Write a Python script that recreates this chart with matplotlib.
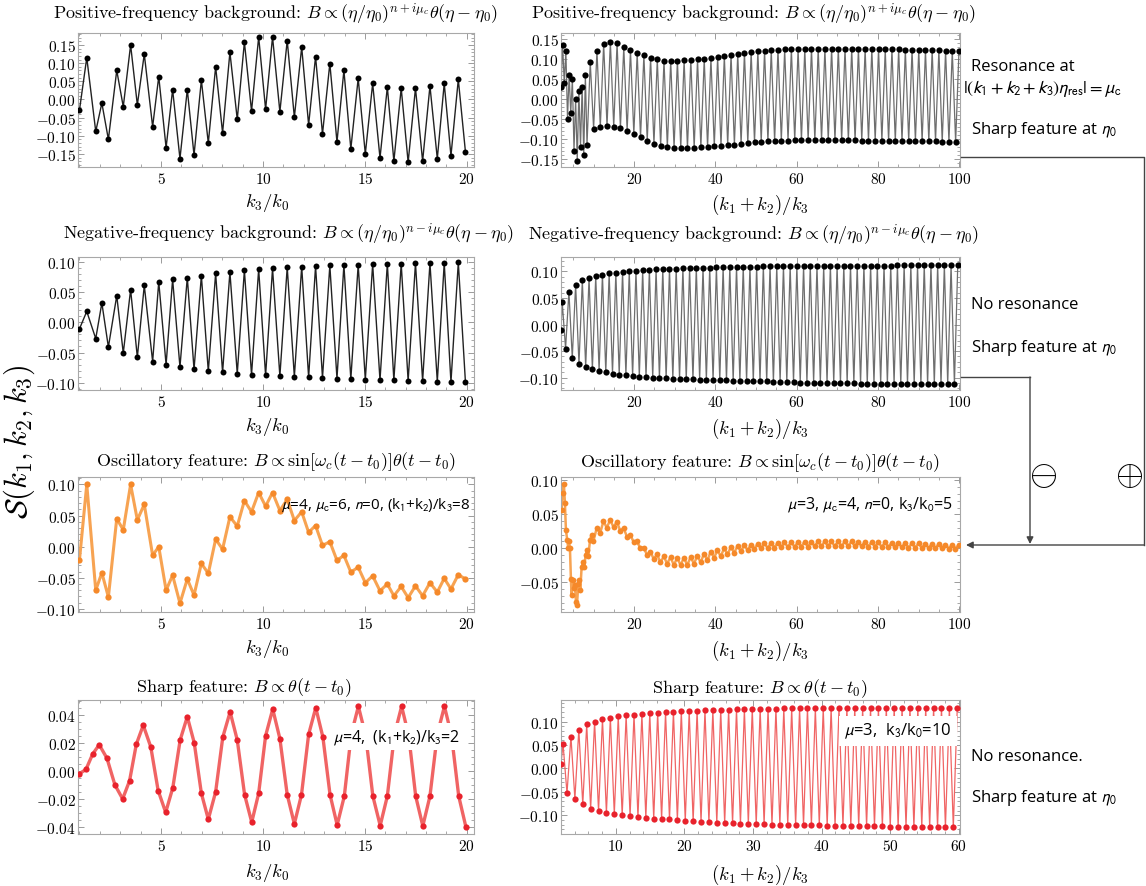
import numpy as np
import matplotlib.pyplot as plt
from matplotlib.lines import Line2D
from matplotlib.patches import FancyArrowPatch
from matplotlib.ticker import MultipleLocator, FuncFormatter

plt.rcParams['font.family'] = 'serif'
plt.rcParams['font.serif'] = ['cmr10']
plt.rcParams['mathtext.fontset'] = 'cm'
plt.rcParams['axes.unicode_minus'] = False

W, H = 1146, 887

# ---------------- data ----------------
# left column: extrema positions in k3/k0 (shared by the three upper left panels)
k3_ext = [1.0, 1.36, 1.8, 2.1, 2.42, 2.83, 3.15, 3.51, 3.84, 4.18, 4.59, 4.89, 5.25, 5.57,
          5.93, 6.29, 6.62, 6.98, 7.32, 7.68, 8.02, 8.38, 8.74, 9.09, 9.44, 9.79, 10.13,
          10.47, 10.83, 11.19, 11.54, 11.9, 12.24, 12.58, 12.92, 13.28, 13.63, 13.97, 14.31,
          14.67, 15.02, 15.38, 15.74, 16.1, 16.42, 16.78, 17.12, 17.48, 17.83, 18.19, 18.55,
          18.89, 19.22, 19.58, 19.93]
pos_k3 = [-0.03, 0.115, -0.088, -0.01, -0.11, 0.08, -0.02, 0.15, -0.015, 0.125, -0.075, 0.063,
          -0.133, 0.027, -0.163, 0.027, -0.153, 0.053, -0.12, 0.09, -0.092, 0.13, -0.055, 0.158,
          -0.032, 0.172, -0.027, 0.172, -0.034, 0.162, -0.049, 0.144, -0.07, 0.118, -0.095, 0.099,
          -0.117, 0.08, -0.136, 0.058, -0.15, 0.044, -0.161, 0.034, -0.17, 0.031, -0.173, 0.031,
          -0.17, 0.037, -0.163, 0.044, -0.155, 0.055, -0.144]
neg_k3 = [-0.011, 0.018, -0.027, 0.032, -0.041, 0.044, -0.051, 0.054, -0.058, 0.061, -0.065, 0.067,
          -0.070, 0.071, -0.074, 0.074, -0.078, 0.077, -0.081, 0.081, -0.083, 0.083, -0.085, 0.086,
          -0.087, 0.088, -0.088, 0.089, -0.089, 0.091, -0.090, 0.092, -0.091, 0.093, -0.092, 0.094,
          -0.093, 0.095, -0.094, 0.095, -0.095, 0.096, -0.096, 0.097, -0.096, 0.097, -0.097, 0.098,
          -0.097, 0.098, -0.098, 0.098, -0.099, 0.099, -0.099]
osc_k3 = [-0.022, 0.10, -0.07, -0.042, -0.081, 0.045, 0.027, 0.10, 0.043, 0.068, -0.014, 0.0,
          -0.07, -0.046, -0.091, -0.052, -0.078, -0.027, -0.043, 0.012, -0.004, 0.048, 0.033, 0.074,
          0.056, 0.087, 0.065, 0.087, 0.058, 0.076, 0.042, 0.056, 0.023, 0.034, 0.002, 0.008,
          -0.022, -0.014, -0.041, -0.033, -0.058, -0.047, -0.071, -0.06, -0.079, -0.064, -0.082,
          -0.063, -0.079, -0.058, -0.073, -0.051, -0.068, -0.045, -0.052]
sharp_k3_x = [1.0, 1.32, 1.65, 1.97, 2.35, 2.74, 3.12, 3.46, 3.79, 4.13, 4.5, 4.86, 5.23, 5.58,
              5.94, 6.29, 6.63, 6.98, 7.32, 7.68, 8.03, 8.39, 8.74, 9.1, 9.45, 9.79, 10.13, 10.48,
              10.83, 11.19, 11.54, 11.89, 12.24, 12.59, 12.94, 13.29, 13.64, 13.99, 14.33, 14.68,
              15.04, 15.39, 15.75, 16.1, 16.45, 16.8, 17.15, 17.49, 17.84, 18.19, 18.55, 18.9,
              19.25, 19.6, 19.95]
sharp_k3_y = [-0.002, 0.001, 0.012, 0.0186, 0.009, -0.010, -0.020, -0.007, 0.019, 0.0325, 0.017,
              -0.014, -0.0296, -0.012, 0.022, 0.0386, 0.020, -0.016, -0.0345, -0.015, 0.024, 0.042,
              0.022, -0.017, -0.0366, -0.016, 0.025, 0.044, 0.023, -0.017, -0.0378, -0.017, 0.026,
              0.045, 0.024, -0.017, -0.0386, -0.018, 0.026, 0.046, 0.025, -0.018, -0.039, -0.018,
              0.026, 0.046, 0.025, -0.018, -0.0393, -0.018, 0.026, 0.046, 0.025, -0.018, -0.0398]

# right column: early points, then tops / bottoms of the fast oscillation
pos_sum_head_x = [2.0, 2.4, 2.8, 3.2, 3.6, 4.0, 4.4, 4.8, 5.2, 5.6, 6.0, 6.4, 6.8, 7.2, 7.6, 8.0, 8.4]
pos_sum_head_y = [0.03, 0.135, 0.04, 0.12, -0.05, 0.06, -0.035, 0.05, -0.13, 0.0, -0.155, 0.02,
                  -0.12, 0.03, -0.14, 0.06, -0.115]
pos_sum_tops = [0.092, 0.12, 0.138, 0.143, 0.14, 0.13, 0.122, 0.115, 0.11, 0.103,
                0.099, 0.096, 0.096, 0.096, 0.097, 0.098, 0.099, 0.1, 0.102, 0.105,
                0.108, 0.111, 0.113, 0.116, 0.118, 0.119, 0.121, 0.122, 0.123, 0.124,
                0.125, 0.125, 0.125, 0.126, 0.126, 0.126, 0.126, 0.126, 0.126, 0.125,
                0.125, 0.125, 0.125, 0.125, 0.124, 0.124, 0.124, 0.123, 0.123, 0.123,
                0.122, 0.122, 0.122, 0.121, 0.121, 0.121]
pos_sum_bots = [-0.075, -0.071, -0.069, -0.07, -0.073, -0.08, -0.088, -0.097, -0.106, -0.113,
                -0.118, -0.121, -0.123, -0.123, -0.123, -0.123, -0.122, -0.121, -0.119, -0.118,
                -0.116, -0.115, -0.113, -0.111, -0.109, -0.108, -0.107, -0.106, -0.105, -0.105,
                -0.104, -0.104, -0.104, -0.104, -0.104, -0.104, -0.104, -0.104, -0.104, -0.104,
                -0.105, -0.105, -0.105, -0.105, -0.106, -0.106, -0.106, -0.106, -0.106, -0.107,
                -0.107, -0.107, -0.108, -0.108, -0.109]

neg_sum_head_x = [2.0]
neg_sum_head_y = [-0.01]
neg_sum_tops = [0.042, 0.062, 0.075, 0.083, 0.088, 0.091, 0.094, 0.096, 0.097, 0.099,
                0.1, 0.101, 0.102, 0.103, 0.104, 0.104, 0.105, 0.105, 0.106, 0.106,
                0.107, 0.107, 0.107, 0.108, 0.108, 0.108, 0.109, 0.109, 0.109, 0.109,
                0.11, 0.11, 0.11, 0.11, 0.11, 0.11, 0.11, 0.11, 0.11, 0.11,
                0.111, 0.111, 0.111, 0.111, 0.111, 0.111, 0.111, 0.111, 0.111, 0.111,
                0.112, 0.112, 0.112, 0.112, 0.112, 0.112, 0.112, 0.112, 0.112, 0.112]
neg_sum_bots = [-0.045, -0.063, -0.074, -0.08, -0.084, -0.087, -0.09, -0.092, -0.094, -0.095,
                -0.097, -0.098, -0.099, -0.1, -0.101, -0.101, -0.102, -0.102, -0.103, -0.103,
                -0.104, -0.104, -0.105, -0.105, -0.105, -0.106, -0.106, -0.106, -0.107, -0.107,
                -0.107, -0.108, -0.108, -0.108, -0.108, -0.109, -0.109, -0.109, -0.109, -0.11,
                -0.11, -0.11, -0.11, -0.11, -0.111, -0.111, -0.111, -0.111, -0.111, -0.111,
                -0.112, -0.112, -0.112, -0.112, -0.112, -0.112, -0.112, -0.112, -0.112]

osc_sum_head_x = [2.14, 2.39, 2.72, 2.96, 3.21, 3.54, 3.79, 3.95, 4.2, 4.44, 4.6, 5.0, 5.27, 5.43,
                  5.68, 5.93, 6.26, 6.5, 6.75, 7.08, 7.49, 7.74, 8.07, 8.4, 8.72, 9.14, 9.55, 9.96]
osc_sum_head_y = [0.057, 0.082, 0.094, 0.067, 0.027, 0.012, 0.0, 0.01, 0.0, -0.045, -0.069, -0.047,
                  -0.059, -0.054, -0.079, -0.084, -0.052, -0.047, -0.062, -0.027, -0.02, -0.027,
                  -0.01, -0.002, -0.012, 0.012, 0.02, 0.01]
osc_sum_tops = [0.030, 0.040, 0.042, 0.039, 0.030, 0.020, 0.010, 0.001, -0.005, -0.009,
                -0.012, -0.013, -0.014, -0.014, -0.013, -0.011, -0.008, -0.005, -0.003, 0.0,
                0.0015, 0.003, 0.0045, 0.0055, 0.0065, 0.007, 0.0075, 0.008, 0.0085, 0.009,
                0.009, 0.0095, 0.0095, 0.01, 0.01, 0.01, 0.01, 0.01, 0.01, 0.0095,
                0.0095, 0.009, 0.009, 0.0085, 0.008, 0.008, 0.0075, 0.007, 0.007, 0.0065,
                0.006, 0.006, 0.0055, 0.005, 0.005]
osc_sum_bots = [0.022, 0.030, 0.031, 0.026, 0.017, 0.009, 0.0, -0.01, -0.016, -0.021,
                -0.023, -0.025, -0.025, -0.025, -0.023, -0.021, -0.018, -0.014, -0.012, -0.009,
                -0.0065, -0.0045, -0.003, -0.0015, 0.0, 0.0005, 0.001, 0.0015, 0.002, 0.002,
                0.0025, 0.0025, 0.003, 0.003, 0.003, 0.003, 0.003, 0.003, 0.003, 0.003,
                0.0025, 0.0025, 0.002, 0.002, 0.0015, 0.0015, 0.001, 0.001, 0.0005, 0.0005,
                0.0, 0.0, -0.0005, -0.0005]

sharp_sum_head_x = [2.0]
sharp_sum_head_y = [0.01]
sharp_sum_tops = [0.052, 0.068, 0.083, 0.094, 0.1, 0.105, 0.108, 0.111, 0.113, 0.115,
                  0.116, 0.118, 0.119, 0.12, 0.121, 0.122, 0.122, 0.123, 0.124, 0.124,
                  0.125, 0.125, 0.126, 0.126, 0.127, 0.127, 0.127, 0.127,
                  0.128, 0.128, 0.128, 0.128, 0.128, 0.128, 0.128, 0.128, 0.128, 0.128, 0.128,
                  0.128, 0.128,
                  0.129, 0.129, 0.129, 0.129, 0.129, 0.129, 0.129, 0.129, 0.129, 0.129]
sharp_sum_bots = [-0.053, -0.065, -0.077, -0.086, -0.091, -0.095, -0.098, -0.1, -0.102, -0.104,
                  -0.105, -0.107, -0.108, -0.109, -0.11, -0.112, -0.113, -0.114, -0.115, -0.116,
                  -0.117, -0.117, -0.118, -0.118, -0.119, -0.119, -0.12, -0.12, -0.12, -0.121,
                  -0.121, -0.121, -0.121, -0.122, -0.122, -0.122, -0.122, -0.123, -0.123, -0.123,
                  -0.123, -0.124, -0.124, -0.124, -0.125, -0.125, -0.125, -0.126, -0.126, -0.126]

titles = [r'Positive-frequency background: $B \propto (\eta/\eta_0)^{n+i\mu_c}\theta(\eta-\eta_0)$',
          r'Negative-frequency background: $B \propto (\eta/\eta_0)^{n-i\mu_c}\theta(\eta-\eta_0)$',
          r'Oscillatory feature: $B \propto \sin[\omega_c(t-t_0)]\theta(t-t_0)$',
          r'Sharp feature: $B \propto \theta(t-t_0)$']

BLACK, GREY = 'black', '#6e6e6e'
ORANGE, ORANGE_L = '#F5892A', '#F7A352'
RED, RED_L = '#E8222C', '#F06464'
SANS = 'Open Sans'


def zigzag(head_x, head_y, x0, step, tops, bots):
    # tops sit every `step`, bottoms half a step later
    xt = x0 + step * np.arange(len(tops))
    xb = x0 + step / 2 + step * np.arange(len(bots))
    x = np.concatenate([xt, xb])
    y = np.concatenate([tops, bots])
    o = np.argsort(x)
    return np.concatenate([head_x, x[o]]), np.concatenate([head_y, y[o]])


fig = plt.figure(figsize=(W / 100, H / 100), dpi=100)


def add_ax(x0, x1, y0, y1):
    return fig.add_axes([x0 / W, 1 - y1 / H, (x1 - x0) / W, (y1 - y0) / H])


def style(ax, xlim, ylim, xmaj, xmin, ymaj, ymin):
    ax.set_xlim(xlim)
    ax.set_ylim(ylim)
    ax.xaxis.set_major_locator(MultipleLocator(xmaj))
    ax.xaxis.set_minor_locator(MultipleLocator(xmin))
    ax.yaxis.set_major_locator(MultipleLocator(ymaj))
    ax.yaxis.set_minor_locator(MultipleLocator(ymin))
    ax.xaxis.set_major_formatter(FuncFormatter(lambda v, p: '$%g$' % v))
    ax.yaxis.set_major_formatter(FuncFormatter(lambda v, p: '$%.2f$' % (0 if abs(v) < 1e-9 else v)))
    ax.tick_params(which='both', direction='in', top=True, right=True, color='#9a9a9a',
                   labelsize=11)
    ax.tick_params(axis='y', pad=1.5)
    ax.tick_params(axis='x', pad=3)
    ax.tick_params(which='major', length=4.5, width=0.7)
    ax.tick_params(which='minor', length=2.5, width=0.6)
    for s in ax.spines.values():
        s.set_color('#a8a8a8')
        s.set_linewidth(0.8)


def draw(ax, x, y, lc, mc, lw, ms):
    ax.plot(x, y, '-', color=lc, lw=lw, zorder=2)
    ax.plot(x, y, 'o', color=mc, ms=ms, mec='none', zorder=3)


LX = (78, 474)
RX = (561, 960)
rows = [(34, 168), (258, 391), (478, 613), (701, 835)]

# row 1
ax1 = add_ax(LX[0], LX[1], *rows[0])
draw(ax1, k3_ext, pos_k3, '#222222', BLACK, 1.0, 4.3)
style(ax1, (0.93, 20.35), (-0.186, 0.183), 5, 1, 0.05, 0.01)

ax2 = add_ax(RX[0], RX[1], *rows[0])
x, y = zigzag(pos_sum_head_x, pos_sum_head_y, 9.2, 1.65, pos_sum_tops, pos_sum_bots)
draw(ax2, x, y, GREY, BLACK, 0.9, 4.5)
style(ax2, (2.0, 100.2), (-0.171, 0.165), 20, 5, 0.05, 0.01)

# row 2
ax3 = add_ax(LX[0], LX[1], *rows[1])
draw(ax3, k3_ext, neg_k3, '#222222', BLACK, 1.0, 4.3)
style(ax3, (0.93, 20.35), (-0.112, 0.108), 5, 1, 0.05, 0.01)

ax4 = add_ax(RX[0], RX[1], *rows[1])
x, y = zigzag(neg_sum_head_x, neg_sum_head_y, 2.3, 1.65, neg_sum_tops, neg_sum_bots)
draw(ax4, x, y, GREY, BLACK, 0.9, 4.5)
style(ax4, (2.0, 100.2), (-0.123, 0.127), 20, 5, 0.05, 0.01)

# row 3
ax5 = add_ax(LX[0], LX[1], *rows[2])
draw(ax5, k3_ext, osc_k3, ORANGE_L, ORANGE, 2.2, 4.5)
style(ax5, (0.93, 20.35), (-0.105, 0.112), 5, 1, 0.05, 0.01)
ax5.text(0.99, 0.80, r'$\mu$=4, $\mu_{\rm c}$=6, $n$=0, (k$_1$+k$_2$)/k$_3$=8',
         transform=ax5.transAxes, ha='right', va='center', fontsize=11, family=SANS,
         math_fontfamily='stixsans', zorder=5)

ax6 = add_ax(RX[0], RX[1], *rows[2])
x, y = zigzag(osc_sum_head_x, osc_sum_head_y, 10.8, 1.65, osc_sum_tops, osc_sum_bots)
draw(ax6, x, y, ORANGE_L, ORANGE, 1.8, 4.2)
style(ax6, (2.0, 100.2), (-0.094, 0.105), 20, 5, 0.05, 0.01)
ax6.text(0.982, 0.80, r'$\mu$=3, $\mu_{\rm c}$=4, $n$=0, k$_3$/k$_0$=5',
         transform=ax6.transAxes, ha='right', va='center', fontsize=11.5, family=SANS,
         math_fontfamily='stixsans', zorder=5)

# row 4
ax7 = add_ax(LX[0], LX[1], *rows[3])
draw(ax7, sharp_k3_x, sharp_k3_y, RED_L, RED, 2.4, 4.5)
style(ax7, (0.93, 20.35), (-0.045, 0.0505), 5, 1, 0.02, 0.005)
ax7.text(0.645, 0.73, r'$\mu$=4,  (k$_1$+k$_2$)/k$_3$=2', transform=ax7.transAxes,
         ha='left', va='center', fontsize=11.5, family=SANS, math_fontfamily='stixsans',
         zorder=5, bbox=dict(facecolor='white', edgecolor='none', pad=3))

ax8 = add_ax(RX[0], RX[1], *rows[3])
x, y = zigzag(sharp_sum_head_x, sharp_sum_head_y, 2.3, 1.15, sharp_sum_tops, sharp_sum_bots)
draw(ax8, x, y, RED_L, RED, 0.9, 4.5)
style(ax8, (2.0, 60.2), (-0.14, 0.146), 10, 2, 0.05, 0.01)
ax8.text(0.845, 0.77, r'$\mu$=3,  k$_3$/k$_0$=10', transform=ax8.transAxes,
         ha='center', va='center', fontsize=12, family=SANS, math_fontfamily='stixsans',
         zorder=5, bbox=dict(facecolor='white', edgecolor='none', pad=4))

# titles and axis labels
title_pos = [((275, 14), (753, 14)), ((288, 234), (753, 235)),
             ((276, 462), (760, 463)), ((244, 688), (760, 689))]
xlab_y = [203, 427, 649, 873]
for i, ((lx, ly), (rx, ry)) in enumerate(title_pos):
    fig.text(lx / W, 1 - ly / H, titles[i], ha='center', va='center', fontsize=13)
    fig.text(rx / W, 1 - ry / H, titles[i], ha='center', va='center', fontsize=13)
    fig.text(267 / W, 1 - xlab_y[i] / H, r'$k_3/k_0$', ha='center', va='center', fontsize=13.5)
    fig.text(760 / W, 1 - (xlab_y[i] + 2) / H, r'$(k_1+k_2)/k_3$', ha='center', va='center',
             fontsize=13.5)

fig.text(19 / W, 1 - 442 / H, r'$\mathcal{S}(k_1,k_2,k_3)$', rotation=90, ha='center',
         va='center', fontsize=22)

# side notes
notes = [(971, 67, 'Resonance at', 12),
         (963, 89, r'$|(k_1 + k_2 + k_3)\eta_{\rm res}| = \mu_{\rm c}$', 13),
         (971, 130, r'Sharp feature at $\eta_0$', 12),
         (971, 305, 'No resonance', 12),
         (971, 348, r'Sharp feature at $\eta_0$', 12),
         (971, 757, 'No resonance.', 12),
         (971, 798, r'Sharp feature at $\eta_0$', 12)]
for nx, ny, s, fs in notes:
    fig.text(nx / W, 1 - ny / H, s, ha='left', va='center', fontsize=fs, family=SANS,
             math_fontfamily='stixsans')

fig.text(1043 / W, 1 - 476 / H, r'$\ominus$', ha='center', va='center', fontsize=26)
fig.text(1129 / W, 1 - 476 / H, r'$\oplus$', ha='center', va='center', fontsize=26)


def connector(pts):
    xs = [p[0] / W for p in pts]
    ys = [1 - p[1] / H for p in pts]
    fig.add_artist(Line2D(xs[:-1], ys[:-1], color='#444444', lw=1.0, transform=fig.transFigure))
    fig.add_artist(FancyArrowPatch((xs[-2], ys[-2]), (xs[-1], ys[-1]), transform=fig.transFigure,
                                   arrowstyle='-|>', mutation_scale=10, color='#444444', lw=1.0,
                                   shrinkA=0, shrinkB=0))


connector([(961, 158), (1144, 158), (1144, 546), (966, 546)])
connector([(961, 378), (1030, 378), (1030, 545)])

fig.savefig('out.png', dpi=100)
